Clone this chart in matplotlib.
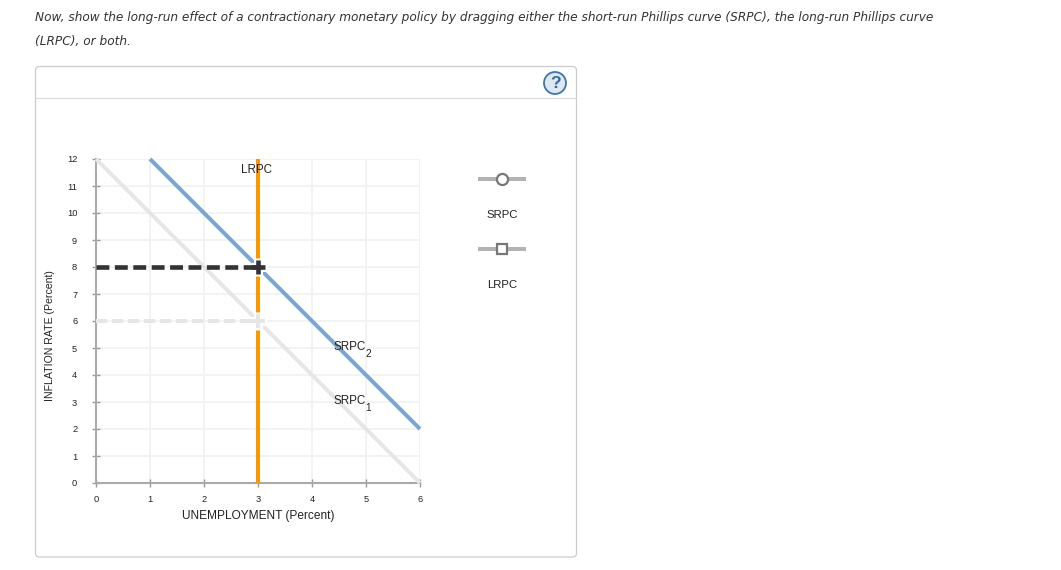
import matplotlib
matplotlib.use("Agg")
import matplotlib.pyplot as plt
from matplotlib.patches import FancyBboxPatch, Circle

W, H = 1061, 570
x_ticks = [0, 1, 2, 3, 4, 5, 6]
y_ticks = list(range(13))
srpc1_x = [0, 6]
srpc1_y = [12, 0]
srpc2_x = [1, 6]
srpc2_y = [12, 2]
lrpc_x = [3, 3]
lrpc_y = [0, 12]
eq1 = (3, 6)
eq2 = (3, 8)
prompt = ["Now, show the long-run effect of a contractionary monetary policy by dragging either the short-run Phillips curve (SRPC), the long-run Phillips curve",
          "(LRPC), or both."]

BLUE, GRAYL, ORANGE, DARK = "#7ba7cf", "#e6e6e6", "#f79a00", "#333333"
SANS = "Liberation Sans"
LW = 4 * 72 / 100

fig = plt.figure(figsize=(W / 100, H / 100), dpi=100, facecolor="white")

# page-level furniture, in pixel coordinates
bg = fig.add_axes([0, 0, 1, 1], zorder=0)
bg.set_xlim(0, W); bg.set_ylim(H, 0); bg.axis("off")
bg.add_patch(FancyBboxPatch((35.5, 66.5), 541, 490.5, boxstyle="round,pad=0,rounding_size=4",
                            fc="white", ec="#cccccc", lw=0.9))
bg.plot([36, 576], [98, 98], color="#dddddd", lw=0.9)
bg.text(35, 17.5, prompt[0], style="italic", family="DejaVu Sans", fontsize=8.75, color="#333333", va="center")
bg.text(35, 41.5, prompt[1], style="italic", family="DejaVu Sans", fontsize=8.75, color="#333333", va="center")
bg.add_patch(Circle((555, 83), 11, fc="#dde7f0", ec="#3f75a6", lw=1.3))
bg.text(555, 83, "?", family=SANS, fontsize=12.5, fontweight="bold", color="#2f6a9c", ha="center", va="center")

# palette on the right
for yy, label, ly, mk in [(178.5, "SRPC", 214.5, "o"), (248.5, "LRPC", 284.5, "s")]:
    bg.plot([478, 526], [yy, yy], color="#b3b3b3", lw=LW, solid_capstyle="butt")
    bg.plot([502], [yy], marker=mk, ms=8 if mk == "o" else 7, mfc="white", mec="#777777", mew=1.6)
    bg.text(502, ly, label, family=SANS, fontsize=8.2, color="#222222", ha="center", va="center")

# chart
ax = fig.add_axes([96 / W, (H - 483) / H, 324 / W, 324 / H], zorder=1)
ax.patch.set_alpha(0)
ax.set_xlim(0, 6); ax.set_ylim(0, 12)
ax.set_xticks(x_ticks); ax.set_yticks(y_ticks)
ax.grid(True, color="#f3f3f3", lw=1.4)
ax.set_axisbelow(True)
for s in ("top", "right"):
    ax.spines[s].set_visible(False)
for s in ("left", "bottom"):
    ax.spines[s].set_color("#aaaaaa"); ax.spines[s].set_linewidth(1.5)
ax.tick_params(axis="y", colors="#222222", labelsize=6.7, length=6, width=1, color="#999999", pad=10.5, direction="inout")
ax.tick_params(axis="x", colors="#222222", labelsize=6.7, length=6, width=1, color="#999999", pad=5.5, direction="inout")
for lab in ax.get_xticklabels() + ax.get_yticklabels():
    lab.set_family(SANS)
ax.set_xlabel("UNEMPLOYMENT (Percent)", family=SANS, fontsize=8.6, color="#222222", labelpad=4.5)
ax.text(50, 336, "INFLATION RATE (Percent)", transform=bg.transData, family=SANS, fontsize=7.6,
        color="#222222", rotation=90, ha="center", va="center")

kw = dict(clip_on=False, solid_capstyle="butt")
ax.plot(srpc1_x, srpc1_y, color=GRAYL, lw=LW, zorder=3, **kw)
ax.plot(srpc2_x, srpc2_y, color=BLUE, lw=LW, zorder=3, **kw)
ax.plot(lrpc_x, lrpc_y, color=ORANGE, lw=LW, zorder=4, **kw)

for (ex, ey), col, dlw in [(eq1, GRAYL, LW), (eq2, DARK, LW * 1.15)]:
    ax.plot([ex], [ey], marker="+", ms=13.5, mew=6.5, color="white", zorder=5)
    ax.plot([0, ex], [ey, ey], color=col, lw=dlw, dashes=(2.8, 1.2), dash_capstyle="butt", zorder=6)
    ax.plot([ex], [ey], marker="+", ms=10.5, mew=dlw, color=col, zorder=7)

txt = dict(family=SANS, fontsize=8.4, color="#222222", ha="left", va="center", zorder=8)
ax.annotate("LRPC", (241, 170), xycoords=bg.transData, **txt)
ax.annotate("SRPC", (334, 347), xycoords=bg.transData, **txt)
ax.annotate("2", (365, 354), xycoords=bg.transData, **{**txt, "fontsize": 7.2})
ax.annotate("SRPC", (334, 400.5), xycoords=bg.transData, **txt)
ax.annotate("1", (365, 408), xycoords=bg.transData, **{**txt, "fontsize": 7.2})

fig.savefig("out.png", dpi=100)
